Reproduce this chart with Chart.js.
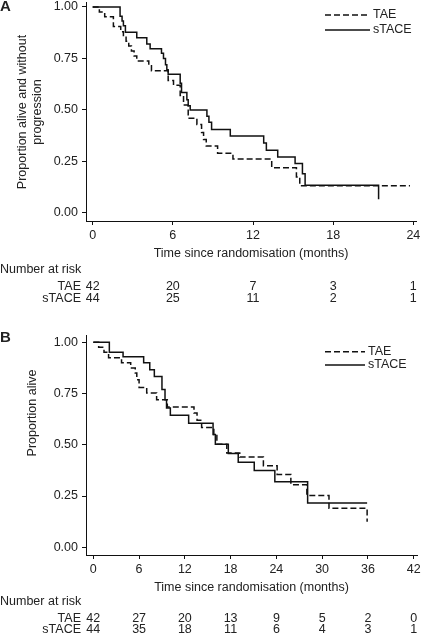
<!DOCTYPE html>
<html>
<head>
<meta charset="utf-8">
<script src="https://cdn.jsdelivr.net/npm/chart.js@4.4.0/dist/chart.umd.min.js"></script>
<style>
    body { margin: 0; background: #fff; }
    canvas { display: block; }
</style>
</head>
<body>
<canvas id="chartA" width="421" height="320"></canvas>
<canvas id="chartB" width="421" height="323"></canvas>
<script>
// Panel A: progression-free survival
const pfsTicks = [0, 6, 12, 18, 24];
const pfsTaeTime = [0, 0.5, 0.9, 1.55, 2.1, 2.3, 2.5, 2.7, 2.9, 3.1, 3.3, 4.2, 4.4, 5.65, 6.05, 6.55, 6.8, 7.15, 7.8, 8.15, 8.3, 8.5, 9.35, 10.5, 13.4, 15.25, 15.5, 23.75];
const pfsTaeSurv = [1, 0.976, 0.952, 0.905, 0.88, 0.857, 0.833, 0.81, 0.786, 0.762, 0.738, 0.714, 0.69, 0.643, 0.62, 0.57, 0.524, 0.46, 0.43, 0.39, 0.357, 0.325, 0.29, 0.262, 0.22, 0.175, 0.132, 0.132];
const pfsStaceTime = [0, 2.05, 2.2, 2.3, 2.45, 3.3, 4.05, 4.3, 5.15, 5.3, 5.45, 5.55, 5.65, 6.55, 6.65, 7.05, 7.15, 7.3, 8.55, 8.7, 8.9, 10.3, 12.8, 13.0, 13.85, 15.15, 15.7, 15.9, 21.4];
const pfsStaceSurv = [1, 0.955, 0.932, 0.909, 0.877, 0.85, 0.82, 0.797, 0.775, 0.75, 0.72, 0.695, 0.673, 0.63, 0.585, 0.55, 0.52, 0.5, 0.47, 0.44, 0.405, 0.374, 0.34, 0.305, 0.272, 0.24, 0.19, 0.135, 0.067];
const pfsRiskTae = [42, 20, 7, 3, 1];
const pfsRiskStace = [44, 25, 11, 2, 1];

// Panel B: overall survival
const osTicks = [0, 6, 12, 18, 24, 30, 36, 42];
const osTaeTime = [0, 0.7, 1.4, 2.0, 3.7, 4.9, 5.5, 5.7, 6.0, 7.0, 8.3, 9.7, 13.2, 13.6, 14.2, 15.8, 16.2, 17.5, 19.2, 22.3, 24.1, 25.9, 28.0, 30.9, 35.9];
const osTaeSurv = [1, 0.976, 0.952, 0.925, 0.9, 0.875, 0.85, 0.818, 0.78, 0.753, 0.72, 0.685, 0.655, 0.62, 0.584, 0.55, 0.503, 0.46, 0.44, 0.398, 0.355, 0.305, 0.253, 0.19, 0.124];
const osStaceTime = [0, 2.1, 3.9, 6.6, 7.4, 8.0, 9.0, 9.4, 9.6, 10.1, 12.5, 15.7, 16.0, 17.7, 19.0, 21.1, 23.8, 28.1, 35.9];
const osStaceSurv = [1, 0.952, 0.93, 0.9, 0.866, 0.834, 0.77, 0.72, 0.68, 0.644, 0.605, 0.55, 0.503, 0.457, 0.415, 0.374, 0.32, 0.216, 0.216];
const osRiskTae = [42, 27, 20, 13, 9, 5, 2, 0];
const osRiskStace = [44, 35, 18, 11, 6, 4, 3, 1];

const yTicks = [0, 0.25, 0.5, 0.75, 1];
const groupNames = ['TAE', 'sTACE'];

const FONT = '"Liberation Sans", Arial, Helvetica, sans-serif';
const TEXT = '#222';
const INK = '#111';
const DASH = [6, 3];

Chart.defaults.font.family = FONT;
Chart.defaults.font.size = 12.5;
Chart.defaults.color = TEXT;

function toSteps(times, surv) {
    return times.map((t, i) => ({ x: t, y: surv[i] }));
}

// Panel letter, y title, legend and number-at-risk table
const kmExtras = {
    id: 'kmExtras',
    afterDraw(chart, args, o) {
        const ctx = chart.ctx;
        const xs = chart.scales.x;
        ctx.save();
        ctx.fillStyle = TEXT;
        ctx.textBaseline = 'middle';

        ctx.font = 'bold 15px ' + FONT;
        ctx.textAlign = 'left';
        ctx.fillText(o.letter, 0, o.letterY);

        ctx.font = '12.5px ' + FONT;
        o.yTitle.forEach((line, i) => {
            ctx.save();
            ctx.translate(o.yTitleX[i], o.yTitleY);
            ctx.rotate(-Math.PI / 2);
            ctx.textAlign = 'center';
            ctx.fillText(line, 0, 0);
            ctx.restore();
        });

        // legend
        ctx.strokeStyle = INK;
        ctx.lineWidth = 1.5;
        groupNames.forEach((name, i) => {
            const y = o.legendY[i];
            ctx.setLineDash(i === 0 ? DASH : []);
            ctx.beginPath();
            ctx.moveTo(o.legendX[0], y);
            ctx.lineTo(o.legendX[1], y);
            ctx.stroke();
            ctx.textAlign = 'left';
            ctx.fillText(name, o.legendX[1] + 3, y);
        });
        ctx.setLineDash([]);

        // number at risk
        ctx.textAlign = 'left';
        ctx.fillText('Number at risk', 0, o.riskY[0]);
        [o.riskTae, o.riskStace].forEach((row, i) => {
            const y = o.riskY[i + 1];
            ctx.textAlign = 'right';
            ctx.fillText(groupNames[i], 81, y);
            ctx.textAlign = 'center';
            row.forEach((n, j) => ctx.fillText(String(n), xs.getPixelForValue(o.ticks[j]), y));
        });
        ctx.restore();
    }
};

function buildChart(id, p) {
    const ctx = document.getElementById(id).getContext('2d');
    return new Chart(ctx, {
        type: 'line',
        data: {
            datasets: [
                {
                    label: 'TAE', data: toSteps(p.taeTime, p.taeSurv),
                    borderColor: INK, borderWidth: 1.5, borderDash: DASH,
                    pointRadius: 0, stepped: true, fill: false
                },
                {
                    label: 'sTACE', data: toSteps(p.staceTime, p.staceSurv),
                    borderColor: INK, borderWidth: 1.5,
                    pointRadius: 0, stepped: true, fill: false
                }
            ]
        },
        options: {
            responsive: false,
            animation: false,
            layout: { padding: { left: 0, right: p.padRight, top: p.padTop, bottom: p.padBottom } },
            scales: {
                x: {
                    type: 'linear',
                    min: p.xMin,
                    max: p.xMax,
                    afterBuildTicks: s => { s.ticks = p.ticks.map(v => ({ value: v })); },
                    afterFit: s => { s.height = 40; s.paddingLeft = 0; s.paddingRight = 0; },
                    grid: { drawOnChartArea: false, tickLength: 4, color: INK },
                    border: { color: INK, width: 1 },
                    ticks: { padding: 3, maxRotation: 0, autoSkip: false, callback: v => v },
                    title: { display: true, text: 'Time since randomisation (months)', padding: 0 }
                },
                y: {
                    type: 'linear',
                    min: p.yMin,
                    max: p.yMax,
                    afterBuildTicks: s => { s.ticks = yTicks.map(v => ({ value: v })); },
                    afterFit: s => { s.width = 86; s.paddingTop = 0; s.paddingBottom = 0; },
                    grid: { drawOnChartArea: false, tickLength: 4, color: INK },
                    border: { color: INK, width: 1 },
                    ticks: { padding: 4, callback: v => v.toFixed(2) }
                }
            },
            plugins: {
                legend: { display: false },
                tooltip: { enabled: false },
                kmExtras: p.extras
            }
        },
        plugins: [kmExtras]
    });
}

buildChart('chartA', {
    taeTime: pfsTaeTime, taeSurv: pfsTaeSurv,
    staceTime: pfsStaceTime, staceSurv: pfsStaceSurv,
    ticks: pfsTicks,
    xMin: -0.5, xMax: 24.2, yMin: -0.039, yMax: 1.024,
    padTop: 2, padRight: 5, padBottom: 59,
    extras: {
        letter: 'A', letterY: 7,
        yTitle: ['Proportion alive and without', 'progression'], yTitleX: [22.5, 38], yTitleY: 112,
        legendX: [325, 370], legendY: [15, 30],
        riskY: [270, 287, 298.5], riskTae: pfsRiskTae, riskStace: pfsRiskStace, ticks: pfsTicks
    }
});

buildChart('chartB', {
    taeTime: osTaeTime, taeSurv: osTaeSurv,
    staceTime: osStaceTime, staceSurv: osStaceSurv,
    ticks: osTicks,
    xMin: -0.96, xMax: 42.44, yMin: -0.038, yMax: 1.036,
    padTop: 15, padRight: 4, padBottom: 48,
    extras: {
        letter: 'B', letterY: 17.5,
        yTitle: ['Proportion alive'], yTitleX: [33], yTitleY: 93,
        legendX: [325, 365], legendY: [31.7, 45],
        riskY: [281.7, 298.3, 310], riskTae: osRiskTae, riskStace: osRiskStace, ticks: osTicks
    }
});
</script>
</body>
</html>
